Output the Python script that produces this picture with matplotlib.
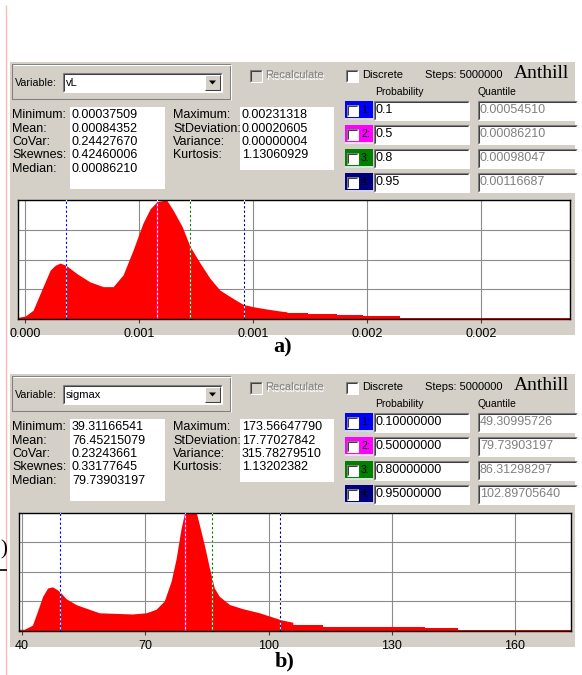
import matplotlib
matplotlib.use('Agg')
import matplotlib.pyplot as plt
from matplotlib.patches import Rectangle, Polygon
from matplotlib.ticker import FormatStrFormatter

plt.rcParams['font.family'] = ['Liberation Sans', 'DejaVu Sans']

GREY = '#D4D0C8'
W, H = 582, 675

# shared labels
left_names = ["Minimum:", "Mean:", "CoVar:", "Skewnes:", "Median:"]
right_names = ["Maximum:", "StDeviation:", "Variance:", "Kurtosis:"]
line_colors = ['#0000FF', '#FF00FF', '#008000', '#000080']

# a) vL
a_variable = "vL"
a_left = ["0.00037509", "0.00084352", "0.24427670", "0.42460006", "0.00086210"]
a_right = ["0.00231318", "0.00020605", "0.00000004", "1.13060929"]
a_probs = ["0.1", "0.5", "0.8", "0.95"]
a_quant = [0.00054510, 0.00086210, 0.00098047, 0.00116687]
a_ticks = [0.0004, 0.0008, 0.0012, 0.0016, 0.0020]
a_x = [0.000375, 0.000400, 0.000428, 0.000463, 0.000488, 0.000505, 0.000523,
       0.000544, 0.000582, 0.000628, 0.000674, 0.000709, 0.000744, 0.000779,
       0.000814, 0.000839, 0.000863, 0.000884, 0.000898, 0.000919, 0.000951,
       0.000979, 0.001014, 0.001049, 0.001084, 0.001130, 0.001165, 0.001200,
       0.001249, 0.001305, 0.001319]
a_y = [0.01, 0.02, 0.07, 0.27, 0.41, 0.45, 0.47, 0.45, 0.38, 0.31, 0.27, 0.27,
       0.37, 0.58, 0.81, 0.93, 0.99, 1.0, 1.0, 0.92, 0.78, 0.61, 0.47, 0.34,
       0.24, 0.17, 0.12, 0.10, 0.08, 0.06, 0.057]
a_tail_edges = [0.001319, 0.001393, 0.001495, 0.001586, 0.001716, 0.002313]
a_tail_h = [0.048, 0.04, 0.031, 0.02, 0.007]

# b) sigmax
b_variable = "sigmax"
b_left = ["39.31166541", "76.45215079", "0.23243661", "0.33177645", "79.73903197"]
b_right = ["173.56647790", "17.77027842", "315.78279510", "1.13202382"]
b_probs = ["0.10000000", "0.50000000", "0.80000000", "0.95000000"]
b_quant = [49.30995726, 79.73903197, 86.31298297, 102.89705640]
b_ticks = [40, 70, 100, 130, 160]
b_x = [39.31, 40.5, 42.5, 43.7, 45.0, 46.2, 47.4, 48.6, 49.4, 50.7, 53.1, 55.5,
       58.8, 62.9, 66.8, 70.2, 72.6, 74.6, 76.3, 77.5, 78.7, 79.5, 80.2, 82.4,
       83.2, 84.4, 85.6, 86.8, 88.0, 90.5, 93.7, 97.8, 103.1, 105.9]
b_y = [0.01, 0.01, 0.045, 0.16, 0.29, 0.36, 0.37, 0.345, 0.32, 0.27, 0.22, 0.19,
       0.15, 0.145, 0.14, 0.15, 0.18, 0.25, 0.42, 0.61, 0.865, 0.99, 1.0, 1.0,
       0.89, 0.72, 0.53, 0.36, 0.29, 0.22, 0.185, 0.15, 0.09, 0.07]
b_tail_edges = [105.9, 113.2, 138.0, 146.1, 173.57]
b_tail_h = [0.045, 0.03, 0.022, 0.008]

fig = plt.figure(figsize=(W / 100, H / 100), dpi=100)
ax0 = fig.add_axes([0, 0, 1, 1])
ax0.set_xlim(0, W)
ax0.set_ylim(H, 0)
ax0.axis('off')


def line(xs, ys, c, lw=0.75):
    ax0.plot(xs, ys, color=c, lw=lw, solid_capstyle='butt')


def sunken(x0, y0, x1, y1, fill):
    ax0.add_patch(Rectangle((x0, y0), x1 - x0, y1 - y0, fc=fill, ec='none'))
    line([x0, x0, x1], [y1, y0, y0], '#808080')
    line([x0 + 1, x0 + 1, x1 - 1], [y1 - 1, y0 + 1, y0 + 1], '#404040')
    line([x0, x1, x1], [y1, y1, y0], 'white')


def txt(x, y, s, size=9, **kw):
    ax0.text(x, y, s, fontsize=size, va='center', ha='left', **kw)


def draw_panel(top, variable, lvals, rvals, probs, quants, xs, ys, edges, heights,
               ticks, tick_fmt, hx0, hx1, tag, tag_xy):
    ax0.add_patch(Rectangle((10, top), 565, 273, fc=GREY, ec='none'))

    # variable group box
    line([12, 230, 230, 12, 12], [top + 2, top + 2, top + 37, top + 37, top + 2], '#808080')
    line([13, 231, 231], [top + 3, top + 3, top + 38], 'white')
    txt(15, top + 21, "Variable:", 7.7)
    sunken(63, top + 11, 222, top + 30, 'white')
    ax0.add_patch(Rectangle((205, top + 13), 15, 15, fc=GREY, ec='none'))
    line([205, 205, 220], [top + 28, top + 13, top + 13], 'white')
    line([205, 220, 220], [top + 28, top + 28, top + 13], '#404040')
    ax0.add_patch(Polygon([(209, top + 18.5), (216, top + 18.5), (212.5, top + 22.5)],
                          closed=True, fc='black', ec='none'))
    txt(66, top + 20.5, variable, 8)

    # check boxes and header
    sunken(250, top + 8, 262, top + 20, GREY)
    txt(266, top + 14.5, "Recalculate", 8, color='white')
    txt(265, top + 13.5, "Recalculate", 8, color='#808080')
    sunken(346, top + 8, 358, top + 20, 'white')
    txt(362, top + 13.5, "Discrete", 8)
    txt(425, top + 13.5, "Steps: 5000000", 8)
    txt(514, top + 11, "Anthill", 14, family='Liberation Serif')
    txt(375, top + 30, "Probability", 7.5)
    txt(478, top + 30, "Quantile", 7.5)

    # statistics
    ax0.add_patch(Rectangle((70, top + 45), 95, 82, fc='white', ec='none'))
    ax0.add_patch(Rectangle((240, top + 45), 94, 63, fc='white', ec='none'))
    for i, (n, v) in enumerate(zip(left_names, lvals)):
        y = top + 53 + i * 13.5
        txt(12, y, n)
        txt(72, y, v)
    for i, (n, v) in enumerate(zip(right_names, rvals)):
        y = top + 53 + i * 13.5
        txt(173, y, n)
        txt(242, y, v)

    # probability / quantile rows
    for i, (p, q, c) in enumerate(zip(probs, quants, line_colors)):
        cy = top + 48 + i * 24
        ax0.add_patch(Rectangle((345, cy - 9.5), 28, 19, fc=c, ec='none'))
        line([345, 373], [cy + 9, cy + 9], 'white', 1.2)
        sunken(347, cy - 5.5, 358, cy + 5.5, 'white')
        txt(361, cy, f"{i + 1}:", 7.5)
        sunken(374, cy - 9.5, 469, cy + 9.5, 'white')
        txt(376, cy, p)
        sunken(478, cy - 9.5, 577, cy + 9.5, 'white')
        txt(480, cy, "%.8f" % q, color='#808080')

    # histogram
    hy0, hy1 = top + 138.5, top + 256.5
    ax = fig.add_axes([hx0 / W, 1 - hy1 / H, (hx1 - hx0) / W, (hy1 - hy0) / H])
    ax.fill_between(xs, ys, color='red', lw=0, zorder=2)
    ax.stairs(heights, edges, fill=True, color='red', lw=0, zorder=2)
    for q, c in zip(quants, line_colors):
        ax.axvline(q, color='white', lw=0.8, zorder=3)
        ax.axvline(q, color=c, lw=0.8, ls=(0, (2, 2)), zorder=4)
    ax.set_xlim(float(lvals[0]), float(rvals[0]))
    ax.set_ylim(0, 1)
    ax.set_xticks(ticks)
    ax.xaxis.set_major_formatter(FormatStrFormatter(tick_fmt))
    ax.set_yticks([0.25, 0.5, 0.75])
    ax.tick_params(axis='y', length=0, labelleft=False)
    ax.tick_params(axis='x', length=3, width=0.8, color='#404040', pad=4,
                   labelsize=9)
    ax.grid(True, color='#8c8c8c', lw=0.8)
    ax.set_axisbelow(True)
    for s in ax.spines.values():
        s.set_color('black')
        s.set_linewidth(1.0)

    ax0.text(tag_xy[0], tag_xy[1], tag, fontsize=16, fontweight='bold',
             family='Liberation Serif', ha='center', va='center')


# margin line and the edge of a bracket on the left
line([5.5, 5.5], [5, H], '#FFB8B8', 1.0)
ax0.text(0, 550, ")", fontsize=15, family='Liberation Serif', va='center', ha='left')
line([0, 7], [569.5, 569.5], 'black', 1.2)

draw_panel(62, a_variable, a_left, a_right, a_probs, a_quant, a_x, a_y,
           a_tail_edges, a_tail_h, a_ticks, '%.3f', 18, 570.2, 'a)', (283, 347))
draw_panel(374, b_variable, b_left, b_right, b_probs, b_quant, b_x, b_y,
           b_tail_edges, b_tail_h, b_ticks, '%d', 19.3, 570.7, 'b)', (285, 661))

fig.savefig('out.png', dpi=100)
